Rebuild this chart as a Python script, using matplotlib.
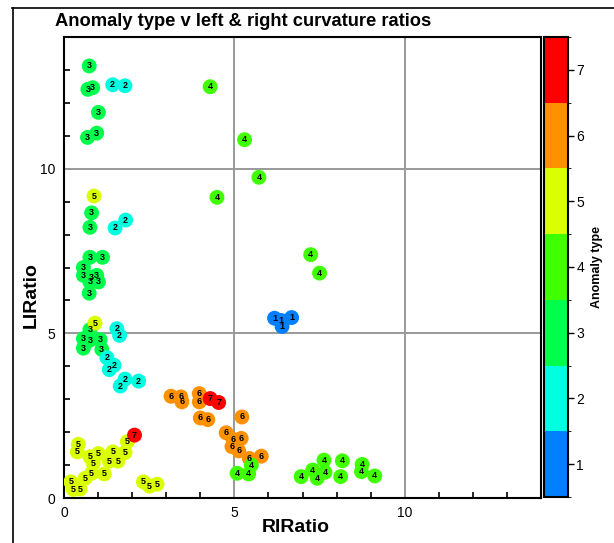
import matplotlib
matplotlib.use("Agg")
import matplotlib.pyplot as plt
from matplotlib.colors import ListedColormap, BoundaryNorm
from matplotlib.lines import Line2D
from matplotlib.ticker import MultipleLocator
import numpy as np

plt.rcParams["font.family"] = ["Liberation Sans", "DejaVu Sans"]

# RIRatio, LIRatio and anomaly type for each sample
ri_ratio = [
    0.74, 0.84, 0.70, 1.01, 0.69, 0.96, 0.81, 0.76, 0.76, 1.13, 0.57, 0.57,
    0.81, 0.96, 0.76, 1.01, 0.74, 0.76, 0.57, 0.76, 1.06, 0.57, 1.11,
    1.43, 1.79, 1.50, 1.81, 1.55, 1.63, 1.26, 1.47, 1.33, 1.79, 1.65, 2.19,
    0.88, 0.91, 1.86, 0.42, 0.39, 1.01, 1.43, 1.79, 0.76, 0.86, 1.33, 1.58,
    0.81, 1.18, 0.62, 0.20, 0.27, 0.47, 2.33, 2.51, 2.73,
    3.14, 3.43, 3.46, 3.97, 3.97, 4.00, 4.22, 5.22, 4.76, 4.96, 5.20, 4.93,
    5.13, 5.44, 5.79,
    4.29, 5.30, 5.72, 4.49, 7.24, 7.50, 5.50, 5.08, 5.42, 6.96, 7.30, 7.43,
    7.63, 7.66, 8.17, 8.12, 8.73, 8.75, 9.12,
    2.07, 4.29, 4.54,
    6.18, 6.38, 6.40, 6.68,
]
li_ratio = [
    13.12, 12.46, 12.41, 11.71, 10.95, 11.08, 8.66, 8.22, 7.31, 7.31, 7.00, 6.76,
    6.70, 6.76, 6.56, 6.56, 6.22, 5.11, 4.84, 4.79, 4.81, 4.55, 4.51,
    12.55, 12.52, 8.20, 8.44, 5.14, 4.94, 4.26, 4.03, 3.90, 3.61, 3.40, 3.55,
    9.17, 5.31, 1.71, 1.63, 1.40, 1.35, 1.40, 1.38, 1.25, 1.05, 1.12, 1.12,
    0.75, 0.73, 0.60, 0.49, 0.26, 0.27, 0.49, 0.36, 0.42,
    3.09, 3.07, 2.92, 3.17, 2.92, 2.43, 2.38, 2.46, 1.98, 1.78, 1.81, 1.56,
    1.43, 1.20, 1.27,
    12.49, 10.88, 9.74, 9.13, 7.39, 6.83, 1.00, 0.75, 0.73, 0.65, 0.85, 0.60,
    1.15, 0.78, 1.13, 0.65, 0.80, 1.02, 0.67,
    1.91, 3.02, 2.90,
    5.46, 5.39, 5.21, 5.48,
]
anomaly_type = (
    [3] * 23 + [2] * 12 + [5] * 21 + [6] * 15 + [4] * 19 + [7] * 3 + [1] * 4
)
type_levels = [1, 2, 3, 4, 5, 6, 7]
type_colors = ["#0080ff", "#00ffe1", "#00ff4c", "#40ff00", "#d9ff00", "#ff9000", "#ff0000"]

cmap = ListedColormap(type_colors)
norm = BoundaryNorm(np.arange(0.5, 8.5, 1), cmap.N)

fig = plt.figure(figsize=(6.14, 5.43), dpi=100)
ax = fig.add_axes([64 / 614, 45 / 543, 477 / 614, 461 / 543])
cax = fig.add_axes([544 / 614, 46 / 543, 24 / 614, 460 / 543])

ax.scatter(ri_ratio, li_ratio, c=anomaly_type, cmap=cmap, norm=norm,
           s=115, edgecolors="none", zorder=3)
for x, y, t in zip(ri_ratio, li_ratio, anomaly_type):
    ax.text(x, y, str(t), ha="center", va="center", fontsize=6.5,
            fontweight="bold", color="black", zorder=4)

ax.set_xlim(0, 14)
ax.set_ylim(0, 14)
ax.xaxis.set_major_locator(MultipleLocator(5))
ax.yaxis.set_major_locator(MultipleLocator(5))
ax.xaxis.set_minor_locator(MultipleLocator(1))
ax.yaxis.set_minor_locator(MultipleLocator(1))
ax.grid(True, which="major", color="#999999", linewidth=1.4, zorder=1)
ax.set_axisbelow(True)
ax.tick_params(which="both", direction="in", labelsize=10, width=1.2)
ax.tick_params(which="major", length=0, pad=6)
ax.tick_params(which="minor", length=4)
for sp in ax.spines.values():
    sp.set_linewidth(1.5)

ax.set_xlabel("RIRatio", fontsize=14, fontweight="bold")
ax.set_ylabel("LIRatio", fontsize=14, fontweight="bold")
ax.xaxis.set_label_coords(0.486, -0.046)
ax.yaxis.set_label_coords(-0.05, 0.44)

cb = fig.colorbar(plt.cm.ScalarMappable(norm=norm, cmap=cmap), cax=cax,
                  ticks=type_levels)
cb.outline.set_linewidth(1.5)
cax.tick_params(labelsize=10, length=4, width=1, pad=2)
cb.set_label("Anomaly type", fontsize=9, fontweight="bold", labelpad=5)

fig.text(55 / 614, 1 - 22 / 543, "Anomaly type v left & right curvature ratios",
         ha="left", va="center", fontsize=13.2, fontweight="bold")

# outer frame of the original export
fig.add_artist(Line2D([12.5 / 614, 12.5 / 614], [0, 1 - 8 / 543],
                      transform=fig.transFigure, color="black", linewidth=1.2))
fig.add_artist(Line2D([12 / 614, 1], [1 - 8 / 543, 1 - 8 / 543],
                      transform=fig.transFigure, color="black", linewidth=1.2))

fig.savefig("out.png", dpi=100)
